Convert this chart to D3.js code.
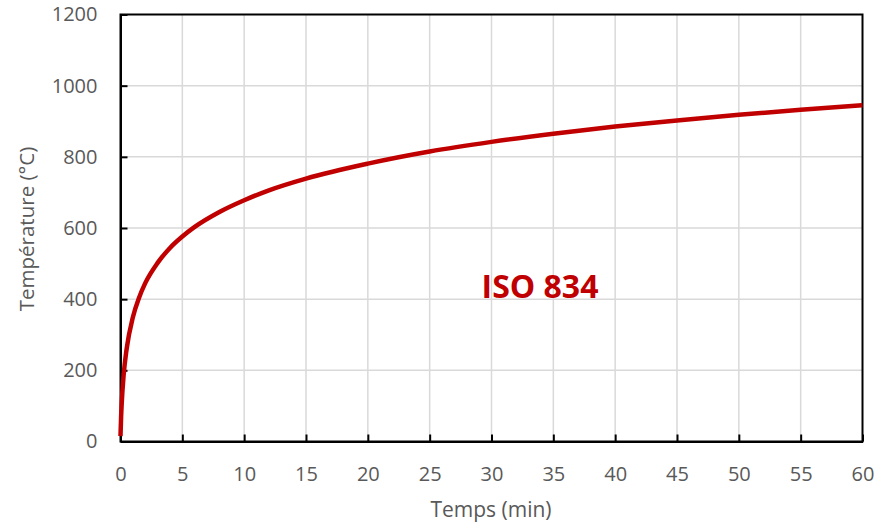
<!DOCTYPE html>
<html><head><meta charset="utf-8">
<script src="https://cdn.jsdelivr.net/npm/d3@7"></script>
<style>body{margin:0;background:#fff}svg{display:block}</style>
</head><body>
<svg id="c" width="877" height="523"></svg>
<script>
const times = [0, 0.05, 0.1, 0.25, 0.5, 1, 1.5, 2, 3, 4, 5, 6, 8, 10, 12, 15, 20, 25, 30, 35, 40, 45, 50, 55, 60];
const temps = [15, 70, 108, 185, 261, 349, 404, 445, 502, 544, 576, 603, 645, 678, 706, 739, 781, 815, 842, 865, 885, 902, 918, 932, 945];
const xTicks = [0, 5, 10, 15, 20, 25, 30, 35, 40, 45, 50, 55, 60];
const yTicks = [0, 200, 400, 600, 800, 1000, 1200];
const seriesLabel = "ISO 834";
const xTitle = "Temps (min)";
const yTitle = "Température (°C)";

const svg = d3.select("#c");
const L = 120.5, R = 862.5, T = 14.5, B = 441.5;
const x = d3.scaleLinear().domain([0, 60]).range([L, R]);
const y = d3.scaleLinear().domain([0, 1200]).range([B, T]);
const font = "'Open Sans', sans-serif";
const grey = "#595959";

// grid
svg.append("g").selectAll("line").data(xTicks.slice(1, -1)).join("line")
  .attr("x1", d => x(d)).attr("x2", d => x(d)).attr("y1", T).attr("y2", B)
  .attr("stroke", "#d9d9d9").attr("stroke-width", 1.5);
svg.append("g").selectAll("line").data(yTicks.slice(1, -1)).join("line")
  .attr("y1", d => y(d)).attr("y2", d => y(d)).attr("x1", L).attr("x2", R)
  .attr("stroke", "#d9d9d9").attr("stroke-width", 1.5);

// frame
svg.append("rect").attr("x", L).attr("y", T).attr("width", R - L).attr("height", B - T)
  .attr("fill", "none").attr("stroke", "#000").attr("stroke-width", 2);

// axes
const fmt = d3.format("d");
const xAxis = svg.append("g").attr("transform", `translate(0,${B})`)
  .call(d3.axisBottom(x).tickValues(xTicks).tickFormat(fmt).tickSizeInner(-7).tickSizeOuter(0).tickPadding(25));
const yAxis = svg.append("g").attr("transform", `translate(${L},0)`)
  .call(d3.axisLeft(y).tickValues(yTicks).tickFormat(fmt).tickSizeInner(-7).tickSizeOuter(0).tickPadding(23));
[xAxis, yAxis].forEach(g => {
  g.select(".domain").attr("stroke", "#000").attr("stroke-width", 2);
  g.selectAll(".tick line").attr("stroke", "#000").attr("stroke-width", 2);
  g.selectAll(".tick text").attr("fill", grey).attr("font-family", font).attr("font-size", 20);
});

// curve
const line = d3.line().x((d, i) => x(times[i])).y(d => y(d)).curve(d3.curveMonotoneX);
svg.append("path").datum(temps).attr("d", line)
  .attr("fill", "none").attr("stroke", "#c00000").attr("stroke-width", 4.5)
  .attr("stroke-linejoin", "round");

// label
svg.append("text").attr("x", 540).attr("y", 298).attr("text-anchor", "middle")
  .attr("font-family", font).attr("font-weight", "bold").attr("font-size", 32)
  .attr("fill", "#c00000").text(seriesLabel);

// titles
svg.append("text").attr("x", 491).attr("y", 517).attr("text-anchor", "middle")
  .attr("font-family", font).attr("font-size", 21).attr("fill", grey).text(xTitle);
svg.append("text").attr("transform", `translate(34,229) rotate(-90)`)
  .attr("text-anchor", "middle").attr("font-family", font).attr("font-size", 20.5)
  .attr("fill", grey).text(yTitle);
</script>
</body></html>
